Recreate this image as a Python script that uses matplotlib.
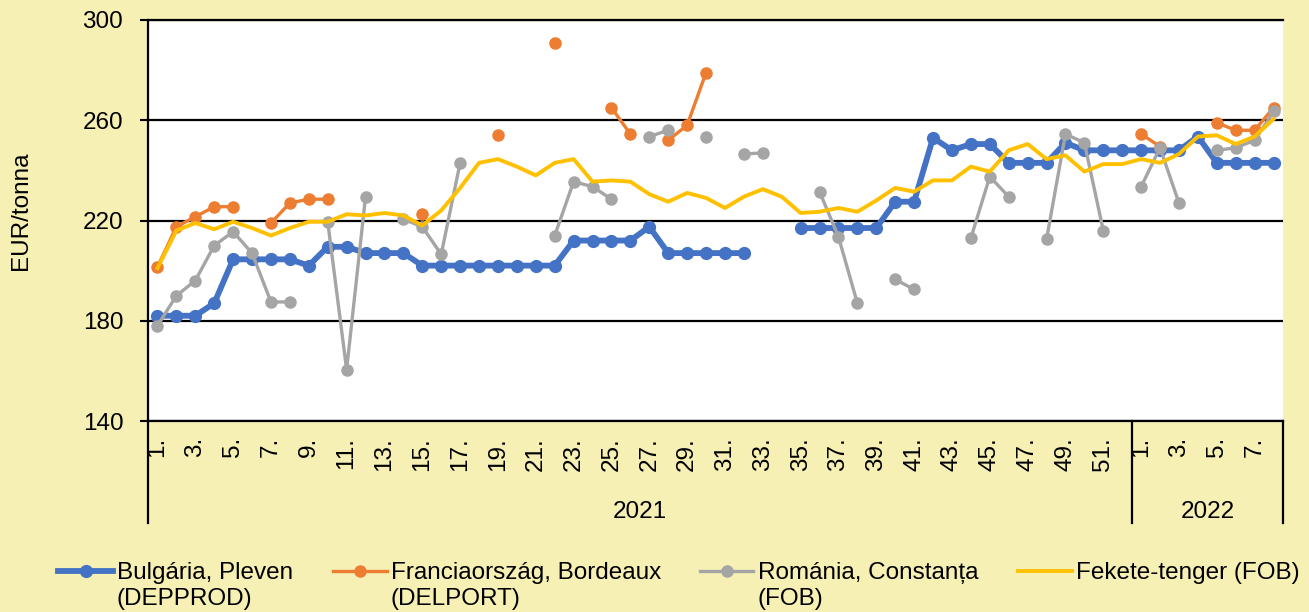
import numpy as np
import matplotlib.pyplot as plt
from matplotlib.lines import Line2D
from matplotlib.transforms import blended_transform_factory

nan = np.nan

weeks_2021 = [f'{w}.' for w in range(1, 53)]
weeks_2022 = [f'{w}.' for w in range(1, 9)]
years = ['2021', '2022']

# EUR/tonna, 2021 week 1 .. 2022 week 8 (NaN = no quote)
bulgaria = [182, 182, 182, 187, 204.5, 204.5, 204.5, 204.5, 202, 209.5,
            209.5, 207, 207, 207, 202, 202, 202, 202, 202, 202,
            202, 202, 212, 212, 212, 212, 217.5, 207, 207, 207,
            207, 207, nan, nan, 217, 217, 217, 217, 217, 227.5,
            227.5, 253, 248, 250.5, 250.5, 243, 243, 243, 251, 248,
            248, 248,
            248, 248, 248, 253.5, 243, 243, 243, 243]

france = [201.5, 217.5, 221.5, 225.5, 225.5, nan, 219, 227, 228.5, 228.5,
          nan, nan, nan, nan, 222.5, nan, nan, nan, 254, nan,
          nan, 291, nan, nan, 265, 254.5, nan, 252, 258, 279,
          nan, nan, nan, nan, nan, nan, nan, nan, nan, nan,
          nan, nan, nan, nan, nan, nan, nan, nan, nan, nan,
          nan, nan,
          254.5, 249.5, nan, nan, 259, 256, 256, 265]

romania = [178, 190, 196, 210, 215.5, 207, 187.5, 187.5, nan, 219.5,
           160.5, 229.5, nan, 220.5, 217.5, 206.5, 243, nan, nan, nan,
           nan, 214, 235.5, 233.5, 228.5, nan, 253.5, 256, nan, 253.5,
           nan, 246.5, 247, nan, nan, 231.5, 213.5, 187, nan, 196.5,
           192.5, nan, nan, 213, 237.5, 229.5, nan, 212.5, 254.5, 251,
           216, nan,
           233.5, 249, 227, nan, 248, 249, 252, 263.5]

black_sea = [201, 216, 219, 216.5, 219.5, 217, 214, 217, 219.5, 219.5,
             222.5, 222, 223, 222, 218, 224, 233, 243, 244.5, 241.5,
             238, 243, 244.5, 235.5, 236, 235.5, 230.5, 227.5, 231, 229,
             225, 229.5, 232.5, 229.5, 223, 223.5, 225, 223.5, 228, 233,
             231.5, 236, 236, 241.5, 239.5, 248, 250.5, 244.5, 246, 239.5,
             242.5, 242.5,
             244.5, 243, 246.5, 253.5, 254, 250.5, 253.5, 260.5]

series = [
    (['Bulgária, Pleven', '(DEPPROD)'], bulgaria, '#4472C4', 4.2, 'o', 8.5),
    (['Franciaország, Bordeaux', '(DELPORT)'], france, '#ED7D31', 2.4, 'o', 8),
    (['Románia, Constanța', '(FOB)'], romania, '#A5A5A5', 2.4, 'o', 8),
    (['Fekete-tenger (FOB)'], black_sea, '#FFC000', 2.8, None, 0),
]

bg = '#F6F0B4'
W, H = 1309, 612
plt.rcParams['font.family'] = ['Liberation Sans', 'DejaVu Sans']
plt.rcParams['font.size'] = 17.5

fig = plt.figure(figsize=(W / 100, H / 100), dpi=100, facecolor=bg)
ax = fig.add_axes([148 / W, 1 - 421 / H, 1135 / W, 401 / H])
ax.set_facecolor('white')

x = np.arange(len(weeks_2021) + len(weeks_2022))
for i, (label, vals, color, lw, marker, ms) in enumerate(series):
    ax.plot(x, vals, color=color, lw=lw, marker=marker, markersize=ms,
            zorder=3 + i, clip_on=False)

ax.set_xlim(-0.5, len(x) - 0.5)
ax.set_ylim(140, 300)
ax.set_yticks(np.arange(140, 301, 40))
ax.yaxis.grid(True, color='black', lw=1.6)
ax.set_axisbelow(True)
ax.tick_params(axis='y', length=5.8, width=1.5, pad=12)

all_labels = weeks_2021 + weeks_2022
tick_pos = [i for i in range(len(weeks_2021)) if i % 2 == 0] + \
           [len(weeks_2021) + i for i in range(len(weeks_2022)) if i % 2 == 0]
ax.set_xticks(tick_pos)
ax.set_xticklabels([all_labels[i] for i in tick_pos], rotation=90)
ax.tick_params(axis='x', length=0, pad=11.5)

ax.spines['right'].set_visible(False)
for side in ['left', 'top', 'bottom']:
    ax.spines[side].set_linewidth(1.6)
    ax.spines[side].set_color('black')

# group separators and year labels below the axis
tr = blended_transform_factory(ax.transData, fig.transFigure)
n21 = len(weeks_2021)
for xs in [-0.5, n21 - 0.5, len(x) - 0.5]:
    ax.add_line(Line2D([xs, xs], [1 - 421 / H, 1 - 523 / H], color='black',
                       lw=1.6, transform=tr, clip_on=False))
ax.text((n21 - 1) / 2, 1 - 518 / H, years[0], transform=tr,
        ha='center', va='baseline')
ax.text(n21 + (len(weeks_2022) - 1) / 2, 1 - 518 / H, years[1], transform=tr,
        ha='center', va='baseline')

ax.set_ylabel('EUR/tonna')
ax.yaxis.set_label_coords((32 - 148) / 1135, (421 - 211) / 401)

# legend, placed by hand to follow the original layout
leg_x = [(58, 113, 117), (333, 387, 391), (700, 753, 758), (1018, 1072, 1076)]
for (label, vals, color, lw, marker, ms), (x0, x1, xt) in zip(series, leg_x):
    fig.add_artist(Line2D([x0 / W, (x0 + x1) / 2 / W, x1 / W],
                          [1 - 571 / H] * 3, color=color, lw=lw,
                          marker=marker, markersize=ms, markevery=[1],
                          transform=fig.transFigure))
    for j, line in enumerate(label):
        fig.text(xt / W, 1 - (579 + 26 * j) / H, line, ha='left',
                 va='baseline')

fig.savefig('out.png', dpi=100, facecolor=bg)
